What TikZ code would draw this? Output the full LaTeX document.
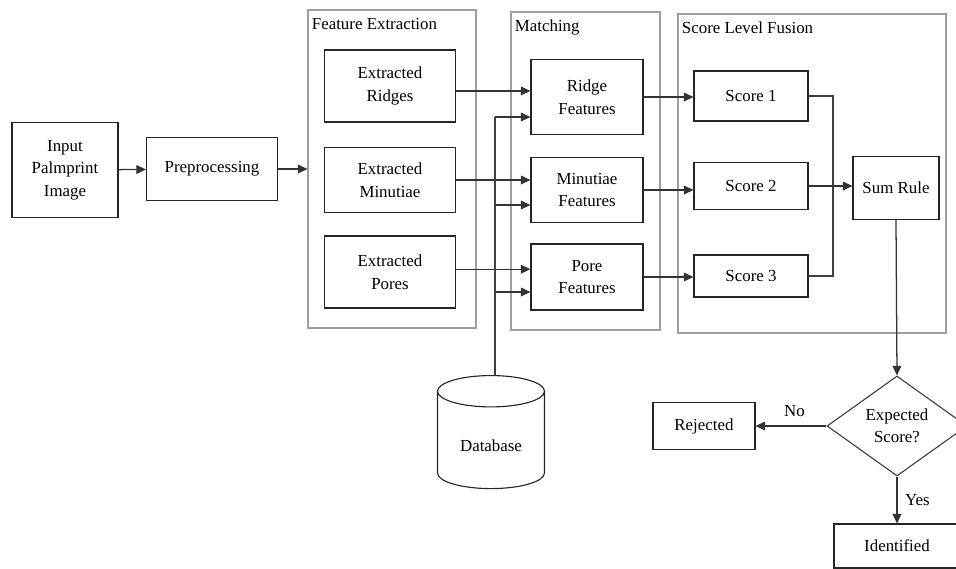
\documentclass[tikz,border=0pt]{standalone}
\usepackage{fontspec}
\setmainfont{Liberation Serif}
\usepackage{tikz}
\usetikzlibrary{shapes.geometric, arrows.meta, positioning, fit}
\tikzset{
  box/.style={rectangle, draw=black!85, line width=0.8pt, align=center, inner sep=2pt},
  groupbox/.style={draw=gray!75, line width=0.8pt, inner sep=0pt},
  grouplabel/.style={anchor=north west, inner xsep=3pt, inner ysep=6pt},
  decision/.style={diamond, draw=black!75, line width=0.8pt, align=center, inner sep=0pt,
                   minimum width=3.5cm, minimum height=2.5cm},
  store/.style={cylinder, shape border rotate=90, aspect=0.44, draw=black!85, line width=0.8pt,
                minimum width=2.675cm, minimum height=2.825cm, text height=12pt},
  arrow/.style={-{Triangle[length=2.4mm, width=2.2mm]}, line width=0.9pt, draw=black!80},
  line/.style={line width=0.9pt, draw=black!75},
}

\begin{document}
\begin{tikzpicture}[x=0.025cm, y=-0.025cm, font=\fontsize{12}{16}\selectfont]

  \useasboundingbox (0,0) rectangle (956,568);

  %% group boxes
  \node[groupbox, fit={(308,10) (476,328)}] (fegroup) {};
  \node[grouplabel] at (fegroup.north west) {Feature Extraction};
  \node[groupbox, fit={(511,12) (660,330)}] (mgroup) {};
  \node[grouplabel] at (mgroup.north west) {Matching};
  \node[groupbox, fit={(678,14) (946,333)}] (sgroup) {};
  \node[grouplabel] at (sgroup.north west) {Score Level Fusion};

  %% input and preprocessing
  \node[box, minimum width=2.65cm, minimum height=2.375cm] (inp) at (65,170) {Input\\Palmprint\\Image};
  \node[box, minimum width=3.275cm, minimum height=1.575cm] (pp) at (212,169) {Preprocessing};

  %% feature extraction
  \node[box, minimum width=3.275cm, minimum height=1.8cm] (er) at (390,86) {Extracted\\Ridges};
  \node[box, minimum width=3.275cm, minimum height=1.625cm] (em) at (390,180) {Extracted\\Minutiae};
  \node[box, minimum width=3.275cm, minimum height=1.8cm] (ep) at (390,272) {Extracted\\Pores};

  %% matching
  \node[box, minimum width=2.8cm, minimum height=1.875cm] (rf) at (587,97) {Ridge\\Features};
  \node[box, minimum width=2.8cm, minimum height=1.625cm] (mf) at (587,190) {Minutiae\\Features};
  \node[box, minimum width=2.8cm, minimum height=1.65cm] (pf) at (587,277) {Pore\\Features};

  %% score level fusion
  \node[box, minimum width=2.85cm, minimum height=1.25cm] (s1) at (751,96) {Score 1};
  \node[box, minimum width=2.85cm, minimum height=1.175cm] (s2) at (751,186) {Score 2};
  \node[box, minimum width=2.85cm, minimum height=1.05cm] (s3) at (751,276) {Score 3};
  \node[box, minimum width=2.15cm, minimum height=1.575cm] (sum) at (896,188) {Sum Rule};

  %% database
  \node[store, anchor=north] (db) at (491,375) {Database};

  %% decision
  \node[decision] (dec) at (897,426) {Expected\\Score?};
  \node[box, minimum width=2.55cm, minimum height=1.175cm] (rej) at (704,426) {Rejected};
  \node[box, minimum width=3.15cm, minimum height=1.1cm] (idf) at (897,546) {Identified};

  %% join points
  \coordinate (join) at (833,186);
  \coordinate (b1) at (495,117);
  \coordinate (b2) at (495,205);
  \coordinate (b3) at (495,292);

  %% arrows
  \draw[arrow] (inp) -- (pp);
  \draw[arrow] (pp.east) -- (pp.east -| fegroup.west);
  \draw[arrow] ([yshift=-3.5pt]er.east) -- ([yshift=-3.5pt]er.east -| rf.west);
  \draw[arrow] (em.east) -- (em.east -| mf.west);
  \draw[arrow] ([yshift=2pt]ep.east) -- ([yshift=2pt]ep.east -| pf.west);
  \draw[line] (db.north -| b1) -- (b1);
  \draw[arrow] (b1) -- (b1 -| rf.west);
  \draw[arrow] (b2) -- (b2 -| mf.west);
  \draw[arrow] (b3) -- (b3 -| pf.west);
  \draw[arrow] (rf.east) -- (rf.east -| s1.west);
  \draw[arrow] (mf.east) -- (mf.east -| s2.west);
  \draw[arrow] (pf.east) -- (pf.east -| s3.west);
  \draw[line] (s1.east) -| (join);
  \draw[line] (s3.east) -| (join);
  \draw[arrow] (s2.east) -- (sum.west |- s2.east);
  \draw[arrow] (sum.south) -- (dec.north);
  \draw[arrow] (dec.west) -- node[above=3pt, pos=0.45] {No} (rej.east |- dec.west);
  \draw[arrow] (dec.south) -- node[right=2pt] {Yes} (idf.north);

\end{tikzpicture}
\end{document}
